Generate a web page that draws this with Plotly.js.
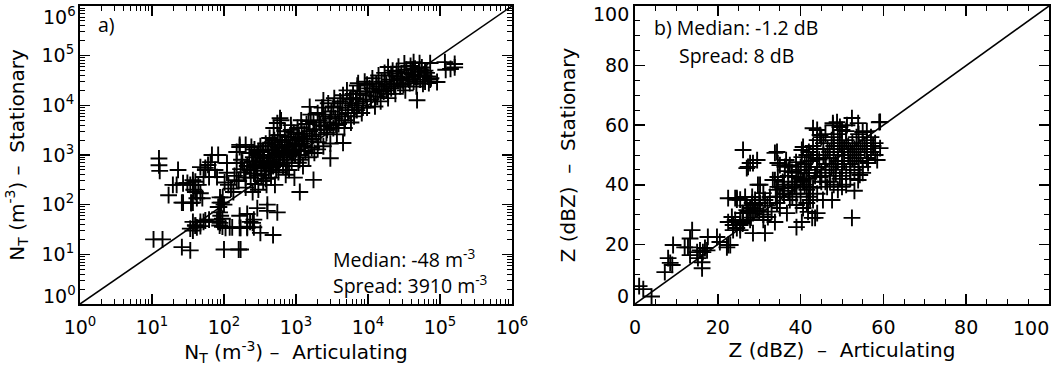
<!DOCTYPE html>
<html>
<head>
<meta charset="utf-8">
<script src="https://cdn.plot.ly/plotly-3.0.1.min.js"></script>
<style>html,body{margin:0;padding:0;background:#fff}#chart{width:1057px;height:371px}</style>
</head>
<body>
<div id="chart"></div>
<script>
// ---------- Panel a: number concentration N_T (m^-3) ----------
const aX = [
 12.5,12.5,12.8,23,19.5,17,10.5,14,26,34,100,160,170,480,37,37,38,27,26,35,47,55,68,42,34,40,47,37,
 88,88,85,80,88,120,170,210,110,150,165,150,290,400,400,550,250,320,600,550,1550,2400,4500,3000,1750,1130,
 7300,9700,19000,48000,91000,117000,140000,160000,120000,160000,26000,73000,62000,73000,43000,52000,18000,7000,
 22,31,34,40,44,27,35,37,40,47,50,60,65,55,75,83,52,62,80,
 37,40,42,47,52,55,62,83,87,90,95,83,87,95,105,130,165,210,260,165,210,230,260,
 102,115,125,135,110,140,150,165,200,240,180,170,96,92,100,
 160,175,190,200,210,225,235,245,250,
 255,260,265,270,280,290,300,310,320,330,340,350,360,370,380,390,395,
 410,420,430,440,450,460,480,490,500,510,520,540,560,570,590,600,620,
 640,660,680,700,720,740,760,780,800,820,850,870,900,930,950,970,990,
 1020,1050,1080,1100,1150,1180,1200,1250,1300,1350,1400,1450,1500,1550,1600,
 1650,1700,1750,1800,1900,2000,2050,2100,2200,2300,2400,2450,
 2550,2650,2800,2900,3000,3100,3300,3400,3500,3700,3800,3900,
 4100,4300,4500,4700,4900,5100,5300,5600,5800,6000,6200,
 6500,6800,7100,7400,7800,8200,8600,9000,9300,9700,
 10500,11000,11500,12000,12500,13000,13500,14000,14500,15000,15500,
 16500,17000,18000,19000,20000,21000,22000,23000,24000,25000,
 26500,28000,29000,30000,32000,33000,34000,36000,38000,39000,
 41000,43000,45000,47000,49000,51000,53000,56000,58000,60000,62000,
 65000,68000,70000,75000,
 300,350,420,470,530,580,630,690,750,830,880,960,1100,1250,330,380,450,270,230,200,
 260,290,320,350,380,410,440,470,500,530,560,600,650,700,750,800,860,920,980,1050,
 1120,1200,1300,1400,1500,1650,1800,2000,2200,2400,2700,3000,3300,3600,4000,4400,4800,5300,5800,6400,
 7000,7700,8500,9500,10500,11500,12800,14000,15500,17000,19000,21000,23000,25000,28000,31000,34000,37000,41000,45000
];
const aY = [
 850,620,480,500,250,155,20,20,14,12,12.5,12.5,12.5,24.5,310,250,200,270,110,110,570,550,1000,135,33,38,45,30,
 140,110,90,50,43,35,34,36,690,690,1450,1150,85,100,75,70,43,27,5500,4400,9300,12600,1750,860,315,180,
 28000,26000,59000,12700,29500,74000,54000,68000,52000,58000,32000,71000,50000,33000,74000,71000,20000,8000,
 250,275,250,290,250,110,108,110,180,170,135,630,720,500,500,1000,360,360,360,
 45,38,35,37,45,48,50,90,70,60,52,45,38,36,34,35,34,34,35,60,65,45,50,
 280,250,210,180,440,380,310,1600,1600,1450,700,520,140,110,100,
 300,800,450,220,600,1100,350,750,180,
 900,420,1300,260,600,1000,200,750,1500,400,1150,300,850,550,1700,250,650,
 1000,480,2200,750,350,1300,600,3500,900,250,1600,700,2500,450,1200,800,5000,
 1800,600,1100,3000,400,1500,800,2300,500,1200,4000,700,1600,2800,350,1000,2000,
 1300,3500,700,2200,1000,5000,1700,600,2700,1200,4200,1900,900,3000,6500,
 1400,2400,4500,1100,3200,7000,1800,5000,2600,9000,1500,3800,
 6000,2800,11000,4500,1700,7500,3500,14000,5500,2600,9000,4200,
 12000,6000,16000,3500,9000,20000,7000,13000,4500,10000,17000,
 8000,14000,25000,10000,19000,7000,12000,30000,16000,9000,
 22000,13000,35000,18000,9500,27000,15000,40000,21000,12000,30000,
 19000,45000,26000,14000,33000,22000,50000,28000,17000,38000,
 60000,24000,44000,32000,70000,20000,52000,36000,28000,62000,
 42000,30000,55000,24000,38000,48000,33000,58000,27000,40000,30000,
 45000,38000,28000,35000,
 1200,700,900,1800,1100,650,1400,900,1200,2000,1000,1500,1600,2100,550,330,550,650,500,350,
 550,380,900,1250,480,1500,650,1000,2000,500,1400,2500,900,1800,600,1300,3200,1100,1700,2600,
 800,3600,1500,2400,4800,2100,3300,1300,4000,6500,3200,5500,9500,4000,6500,11000,5000,8000,14000,6000,
 11000,17000,9000,13000,19000,28000,15000,24000,20000,30000,17000,40000,24000,48000,35000,26000,45000,33000,52000,38000
];
const aRange = [1, 1e6];
const aXTickVals = [1, 10, 100, 1000, 10000, 100000, 1000000];
const aXTickText = ['10<sup>0</sup>','10<sup>1</sup>','10<sup>2</sup>','10<sup>3</sup>','10<sup>4</sup>','10<sup>5</sup>','10<sup>6</sup>'];
const aYTickVals = [10, 100, 1000, 10000, 100000];
const aYTickText = ['10<sup>1</sup>','10<sup>2</sup>','10<sup>3</sup>','10<sup>4</sup>','10<sup>5</sup>'];
const aYEndLabels = ['10<sup>0</sup>', '10<sup>6</sup>'];

// ---------- Panel b: reflectivity Z (dBZ) ----------
const bX = [
 1,2,4,7.2,8,8.5,9,9.2,12,12.8,13.3,13.3,13.8,15,15.2,15.7,16.2,16.2,16.4,16.9,17.4,17.6,19.8,20.5,22.2,23,24.6,25.4,29.7,
 23.7,23.7,24.2,25.4,26.1,27,27.8,28.5,29.5,30.2,31.4,22.5,22.5,23.4,24.6,25.4,26,27,27.8,29,28.5,
 26.1,27.8,27.3,27,29.5,30.2,33.8,34.5,36.5,37,38.9,40,33.8,34.5,35.7,22.5,24.2,31,31.4,32.6,34.3,35,37.4,39,40.6,41.8,43.5,44,
 31,32.1,33.8,36.7,39,40.3,41.5,42.3,43,52.4,25.4,26.1,27.3,28.3,29,
 28.5,34.3,35,36.2,37.4,37.9,40.3,41.5,44,44.7,24.6,26.6,28.3,33.3,34.5,34.3,35.7,39,38.6,40.6,41.5,47.8,48.8,50,51.2,42.8,
 42,42.5,43,43.5,44,44,44.5,45,45,45.5,45.5,46,46,46.5,47,47,47.5,47.5,48,48,48.5,48.5,49,49,49.5,49.5,50,50,50.5,50.5,
 51,51,51.5,51.5,52,52,52.5,52.5,53,53,53.5,53.5,54,54,54.5,55,55,55.5,56,56,57,57.5,58,
 41,42,43,44,46,48,50,49,47.1,46.4,44.7,45.4,47.6,40.6,40.3,39.4,40.6,41.5,42.3,43,47.8,49.5,52.4,53.9,55,59.2,59,
 59.2,58.5,56.3,54.3,53.9,51,53,55,52,50,48,46,45,44,43,42,41,40,39,38,37,36,38,40,42,56,54,57,58,51,49,52,54,56,48,46,44,47,50,53,
 26,28,30,32,34,36,38,40,42,44,30,33,36,39,27,29,31,35,37,41
];
const bY = [
 6,5,2.5,10.7,15.4,13.8,13.1,19.8,19,19,16.4,22,24.8,17.4,15.4,18,14,12,17.4,18.8,18,22.5,22.5,20.8,19,19.8,35,35,40,
 26.5,24.8,28.2,26.5,27.5,30.5,28.2,30.5,31.5,33.9,23.8,19.8,27.5,29.2,25.5,24.8,30.5,31.5,32.2,33.2,23.8,
 51.7,47.3,46,45.6,48.3,40,50.7,47.3,48.3,44.6,47.6,46,41.6,39.3,41,35.5,35.5,37.2,34.9,35.9,33.9,32.2,34.9,33.2,32.2,30.9,28.9,30.5,
 28.2,29.2,27.5,30.5,25.8,27.5,33.9,34.9,34.9,28.9,28.2,30.5,30.9,33.9,34.9,
 47.3,51,46.6,46,46.6,44.3,51.7,50,58.4,56.7,35.5,35.9,35.9,41.6,42.6,38.3,38.9,42.6,39.3,41.6,44,60,61,58.4,60,28.9,
 45,48,50,43,46,52,48.5,41,44,50,54,47,45,52,49,43,55,46,50,53,47,44,51,48,54,42,50,46,52,48,
 55,44,50,53,47,51,49,54,45,52,50,56,48,53,51,46,54,52,49,55,51,53,50,
 40,42,39,37,41,40,39.3,38.3,41,39.3,42.6,34.9,34.9,52.7,49.3,44,41,38.3,39.3,59,60.7,59.4,62.4,60.7,57.7,61.1,61,
 52.3,48.3,47.3,43.3,41.6,40,38,44,42,43,56,57,56,55,53,51,47,45,41,40,38,37,36,37,36,58,57,56,54,58,57,45,46,51,45,49,49,51,54,49,
 27,29,31,33,36,37,39,42,44,46,35,31,40,37,33,32,30,36,43,45
];
const bRange = [0, 100];
const bXTickVals = [0, 20, 40, 60, 80];
const bYTickVals = [20, 40, 60, 80];
const bEndLabels = ['0', '100'];

const crossMarker = {symbol: 'cross-thin-open', size: 12, color: '#000', line: {color: '#000', width: 1.9}};
const lineStyle = {color: '#000', width: 1.6};

const traces = [
  {x: aX, y: aY, type: 'scatter', mode: 'markers', marker: crossMarker, xaxis: 'x', yaxis: 'y', hoverinfo: 'x+y'},
  {x: aRange, y: aRange, type: 'scatter', mode: 'lines', line: lineStyle, xaxis: 'x', yaxis: 'y', hoverinfo: 'skip'},
  {x: bX, y: bY, type: 'scatter', mode: 'markers', marker: crossMarker, xaxis: 'x2', yaxis: 'y2', hoverinfo: 'x+y'},
  {x: bRange, y: bRange, type: 'scatter', mode: 'lines', line: lineStyle, xaxis: 'x2', yaxis: 'y2', hoverinfo: 'skip'}
];

const FAM = 'DejaVu Sans, sans-serif';
const tickFont = {family: FAM, size: 19, color: '#000'};
const titleFont = {family: FAM, size: 20, color: '#000'};
const textFont = {family: 'Open Sans, sans-serif', size: 19.5, color: '#000'};
const common = {
  showline: true, linecolor: '#000', linewidth: 2, mirror: 'ticks',
  ticks: 'inside', ticklen: 10, tickwidth: 1.5, tickcolor: '#000',
  showgrid: false, zeroline: false, tickfont: tickFont, automargin: false,
  ticklabeloverflow: 'allow'
};
const logMinor = {ticks: 'inside', ticklen: 5, tickwidth: 1, tickcolor: '#000', dtick: 'D1', showgrid: false};
const linMinor = {ticks: 'inside', ticklen: 5, tickwidth: 1, tickcolor: '#000', dtick: 5, showgrid: false};

const ax0 = 80, ax1 = 512, bx0 = 635, bx1 = 1049, yTop = 6, yBot = 304;
const W = 1057, H = 371;
const px = v => v / W, py = v => 1 - v / H;
const PAD = '\u00a0\u00a0\u00a0\u00a0\u00a0';

function tickAnn(text, x, y, xanchor) {
  return {xref: 'paper', yref: 'paper', x: px(x), y: py(y), xanchor: xanchor, yanchor: 'middle',
          showarrow: false, text: text, font: tickFont};
}
function textAnn(text, x, y) {
  return {xref: 'paper', yref: 'paper', x: px(x), y: py(y), xanchor: 'left', yanchor: 'middle',
          showarrow: false, text: text, font: textFont};
}

const layout = {
  width: W, height: H,
  margin: {l: 0, r: 0, t: 0, b: 0},
  paper_bgcolor: '#fff', plot_bgcolor: '#fff',
  showlegend: false,
  font: {family: FAM, color: '#000'},
  xaxis: Object.assign({}, common, {
    type: 'log', domain: [px(ax0), px(ax1)], range: [0, 6],
    tickmode: 'array', tickvals: aXTickVals, ticktext: aXTickText, minor: logMinor,
    anchor: 'y', ticklabelstandoff: 5,
    title: {text: PAD + 'N<sub>T</sub> (m<sup>-3</sup>) –  Articulating', font: titleFont, standoff: 4}
  }),
  yaxis: Object.assign({}, common, {
    type: 'log', domain: [py(yBot), py(yTop)], range: [0, 6],
    tickmode: 'array', tickvals: aYTickVals, ticktext: aYTickText, minor: logMinor,
    anchor: 'x', ticklabelstandoff: 0,
    title: {text: PAD + 'N<sub>T</sub> (m<sup>-3</sup>) –  Stationary', font: titleFont, standoff: 12}
  }),
  xaxis2: Object.assign({}, common, {
    domain: [px(bx0), px(bx1)], range: bRange, tickmode: 'array', tickvals: bXTickVals, minor: linMinor,
    anchor: 'y2', ticklabelstandoff: 5,
    title: {text: 'Z (dBZ)  –  Articulating', font: titleFont, standoff: 6}
  }),
  yaxis2: Object.assign({}, common, {
    domain: [py(yBot), py(yTop)], range: bRange, tickmode: 'array', tickvals: bYTickVals, minor: linMinor,
    anchor: 'x2', ticklabelstandoff: 0,
    title: {text: 'Z (dBZ)  –  Stationary', font: titleFont, standoff: 24}
  }),
  annotations: [
    tickAnn(aYEndLabels[0], 78, 295, 'right'),
    tickAnn(aYEndLabels[1], 78, 16, 'right'),
    tickAnn(bEndLabels[0], 631, 296, 'right'),
    tickAnn(bEndLabels[1], 631, 14, 'right'),
    tickAnn(bEndLabels[1], 1051, 328, 'right'),
    textAnn('a)', 96, 25),
    textAnn('Median: -48 m<sup>-3</sup>', 331, 258),
    textAnn('Spread: 3910 m<sup>-3</sup>', 331, 284),
    textAnn('b) Median: -1.2 dB', 652, 28),
    textAnn('Spread: 8 dB', 677, 55)
  ]
};

Plotly.newPlot('chart', traces, layout, {displayModeBar: false, staticPlot: true});
</script>
</body>
</html>
